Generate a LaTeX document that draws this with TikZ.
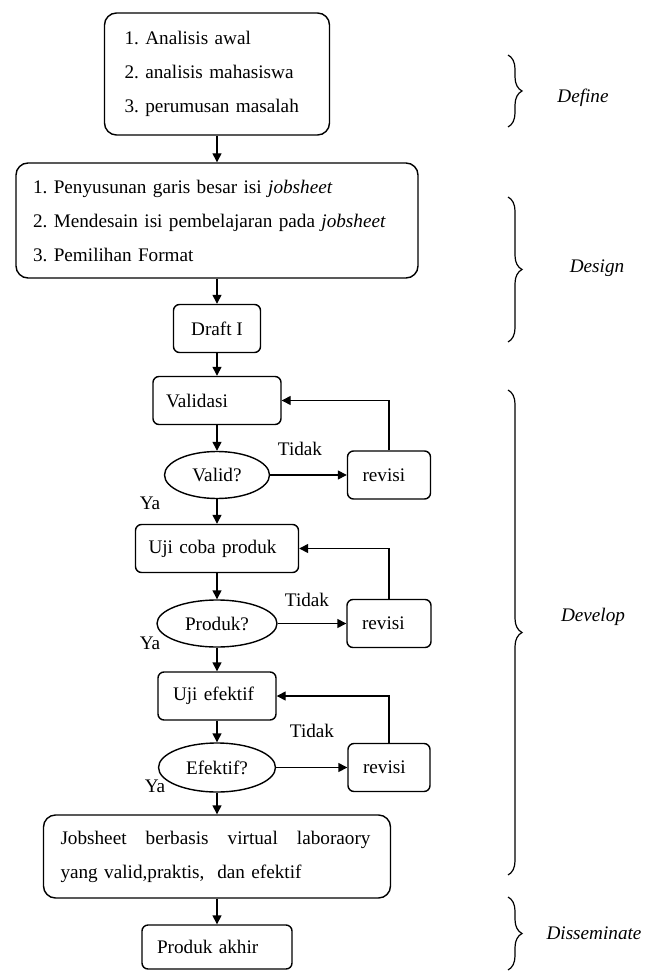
\documentclass[tikz,border=0pt]{standalone}
\usepackage{fontspec}
\setmainfont{Liberation Serif}
\usetikzlibrary{arrows.meta,positioning,shapes.geometric,decorations.pathreplacing}
\frenchspacing

\begin{document}
\begin{tikzpicture}[x=0.5pt,y=-0.5pt,
    font=\fontsize{9.6}{17}\selectfont,
    stage/.style={draw,rounded corners=6pt,line width=0.7pt,align=left},
    stepbox/.style={draw,rounded corners=3pt,line width=0.7pt,minimum height=24pt,inner ysep=0pt},
    decision/.style={ellipse,draw,line width=0.7pt,inner sep=0pt,minimum height=23.5pt},
    arrow/.style={-{Triangle[length=4.5pt,width=4.5pt]},line width=0.7pt},
    phase/.style={decorate,decoration={brace,amplitude=7pt},line width=0.6pt},
    phaselabel/.style={font=\fontsize{9.6}{12}\selectfont\itshape}
]
\useasboundingbox (0,0) rectangle (658,972);
% main column
\node[stage,text width=92.5pt,inner xsep=10pt,minimum height=61pt] (define) at (217,74)
    {1. Analisis awal\\2. analisis mahasiswa\\3. perumusan masalah};
\node[stage,text width=184pt,inner xsep=8.5pt,minimum height=57.5pt] (design) at (217,220.5)
    {1. Penyusunan garis besar isi \textit{jobsheet}\\2. Mendesain isi pembelajaran pada \textit{jobsheet}\\3. Pemilihan Format};
\node[stepbox,minimum width=43.5pt] (draft) at (217,328.5) {Draft I};
\node[stepbox,text width=51pt,inner xsep=6.5pt,align=left] (validasi) at (217,400.5) {Validasi};
\node[decision,minimum width=52.5pt] (validq) at (217,475) {Valid?};
\node[stepbox,text width=68.5pt,inner xsep=6.5pt,align=left] (ujicoba) at (217,548.5) {Uji coba produk};
\node[decision,minimum width=60pt] (produkq) at (217,623.5) {Produk?};
\node[stepbox,text width=44pt,inner xsep=7.5pt,align=left] (ujief) at (217,696) {Uji efektif};
\node[decision,minimum width=58.5pt,minimum height=24.5pt] (efektifq) at (217,767.5) {Efektif?};
\node[stage,text width=156.5pt,inner xsep=8.5pt,minimum height=41.5pt] (jobsheet) at (217,856.5)
    {\hbox to 155pt{Jobsheet\hfill berbasis\hfill virtual\hfill laboraory}\\yang valid,praktis,\ \ dan efektif};
\node[stepbox,minimum height=22pt,text width=60pt,inner xsep=7.5pt,align=left] (akhir) at (217,947) {Produk akhir};
% revisions
\node[stepbox,text width=26.5pt,inner xsep=7.5pt,align=left] (rev1) at (389,475) {revisi};
\node[stepbox,text width=27pt,inner xsep=7.5pt,align=left] (rev2) at (389,623.5) {revisi};
\node[stepbox,text width=26pt,inner xsep=7.5pt,align=left] (rev3) at (389,767.5) {revisi};
\foreach \a/\b in {define/design,design/draft,draft/validasi,validasi/validq,validq/ujicoba,
    ujicoba/produkq,produkq/ujief,ujief/efektifq,efektifq/jobsheet,jobsheet/akhir}
    {\draw[arrow] (\a) -- (\b);}
\foreach \q/\r/\t in {validq/rev1/validasi,produkq/rev2/ujicoba,efektifq/rev3/ujief}
    {\draw[arrow] (\q) -- (\r);
     \draw[arrow] (\r.north) |- (\t.east);}
\node (tidak1) at (300,449) {Tidak};
\node (tidak2) at (307,600) {Tidak};
\node (tidak3) at (312,731) {Tidak};
\node (ya1) at (150,503) {Ya};
\node (ya2) at (150,643) {Ya};
\node (ya3) at (155,786) {Ya};
% phases
\draw[phase] (508,55) -- (508,127);
\draw[phase] (508,197) -- (508,342);
\draw[phase] (508,390) -- (508,875);
\draw[phase] (508,897) -- (508,970);
\node[phaselabel] (definelabel) at (583,98) {Define};
\node[phaselabel] (designlabel) at (597,268) {Design};
\node[phaselabel] (developlabel) at (593,617) {Develop};
\node[phaselabel] (disslabel) at (594,933) {Disseminate};
\end{tikzpicture}
\end{document}
